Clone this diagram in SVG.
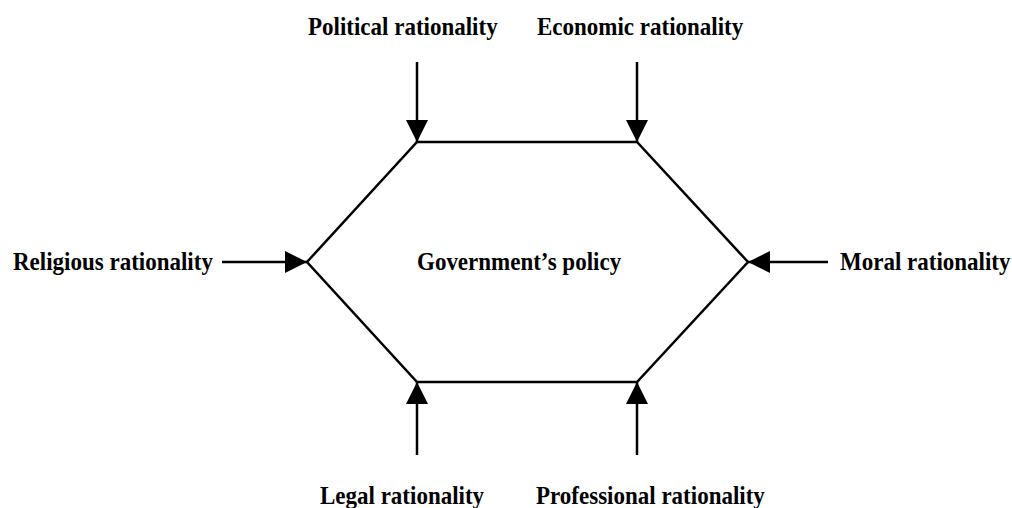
<svg xmlns="http://www.w3.org/2000/svg" width="1012" height="508" viewBox="0 0 1012 508">
<style>
.t{font-family:"Liberation Serif","Times New Roman",serif;font-weight:bold;font-size:23px;fill:#000}
.c{stroke:#000;stroke-width:2.5;fill:none}
</style>
<defs>
<marker id="ah" markerUnits="userSpaceOnUse" markerWidth="24" markerHeight="22" refX="22" refY="11" orient="auto">
<path d="M0,0 L22,11 L0,22 Z" fill="#000"/>
</marker>
</defs>
<rect width="1012" height="508" fill="#fff"/>
<g id="policy">
<polygon class="c" points="417,142 637,142 748,262 637,382 417,382 307,262"/>
<text class="t" transform="translate(417,270) scale(1,1.13)">Government’s policy</text>
</g>
<g id="political"><text class="t" transform="translate(308,35) scale(1,1.13)">Political rationality</text></g>
<g id="economic"><text class="t" transform="translate(537,35) scale(1,1.13)">Economic rationality</text></g>
<g id="religious"><text class="t" transform="translate(13,270) scale(1,1.13)">Religious rationality</text></g>
<g id="moral"><text class="t" transform="translate(840,270) scale(1,1.13)">Moral rationality</text></g>
<g id="legal"><text class="t" transform="translate(320,504) scale(1,1.13)">Legal rationality</text></g>
<g id="professional"><text class="t" transform="translate(536,504) scale(1,1.13)">Professional rationality</text></g>
<g id="connectors" class="c">
<line x1="417" y1="62" x2="417" y2="142" marker-end="url(#ah)"/>
<line x1="637" y1="62" x2="637" y2="142" marker-end="url(#ah)"/>
<line x1="222" y1="262" x2="307" y2="262" marker-end="url(#ah)"/>
<line x1="828" y1="262" x2="748" y2="262" marker-end="url(#ah)"/>
<line x1="417" y1="455" x2="417" y2="382" marker-end="url(#ah)"/>
<line x1="637" y1="455" x2="637" y2="382" marker-end="url(#ah)"/>
</g>
</svg>
